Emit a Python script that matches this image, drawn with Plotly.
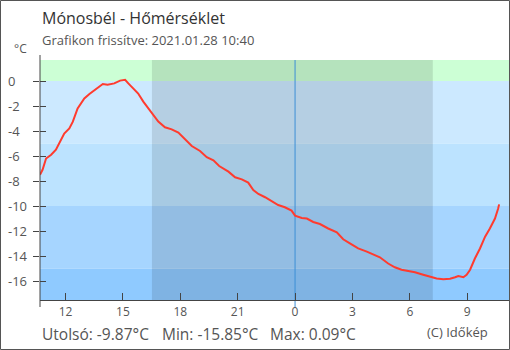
import plotly.graph_objects as go

# Temperature series (local time, °C)
times = [
    "2021-01-27 10:40", "2021-01-27 10:48", "2021-01-27 10:59", "2021-01-27 11:15",
    "2021-01-27 11:30", "2021-01-27 11:46", "2021-01-27 11:56", "2021-01-27 12:12",
    "2021-01-27 12:23", "2021-01-27 12:38", "2021-01-27 12:59", "2021-01-27 13:15",
    "2021-01-27 13:36", "2021-01-27 13:57", "2021-01-27 14:12", "2021-01-27 14:33",
    "2021-01-27 14:51", "2021-01-27 15:07", "2021-01-27 15:17", "2021-01-27 15:33",
    "2021-01-27 15:48", "2021-01-27 16:04", "2021-01-27 16:20", "2021-01-27 16:35",
    "2021-01-27 16:51", "2021-01-27 17:12", "2021-01-27 17:33", "2021-01-27 17:54",
    "2021-01-27 18:15", "2021-01-27 18:36", "2021-01-27 19:02", "2021-01-27 19:23",
    "2021-01-27 19:44", "2021-01-27 20:02", "2021-01-27 20:31", "2021-01-27 20:52",
    "2021-01-27 21:13", "2021-01-27 21:33", "2021-01-27 21:49", "2021-01-27 22:05",
    "2021-01-27 22:26", "2021-01-27 22:47", "2021-01-27 23:07", "2021-01-27 23:28",
    "2021-01-27 23:49", "2021-01-28 00:00", "2021-01-28 00:21", "2021-01-28 00:37",
    "2021-01-28 00:57", "2021-01-28 01:18", "2021-01-28 01:44", "2021-01-28 02:11",
    "2021-01-28 02:31", "2021-01-28 02:52", "2021-01-28 03:18", "2021-01-28 03:45",
    "2021-01-28 04:05", "2021-01-28 04:26", "2021-01-28 04:52", "2021-01-28 05:13",
    "2021-01-28 05:34", "2021-01-28 05:58", "2021-01-28 06:16", "2021-01-28 06:42",
    "2021-01-28 07:03", "2021-01-28 07:24", "2021-01-28 07:45", "2021-01-28 08:06",
    "2021-01-28 08:22", "2021-01-28 08:32", "2021-01-28 08:48", "2021-01-28 08:58",
    "2021-01-28 09:09", "2021-01-28 09:24", "2021-01-28 09:40", "2021-01-28 09:56",
    "2021-01-28 10:11", "2021-01-28 10:27", "2021-01-28 10:37", "2021-01-28 10:40",
]
temps = [
    -7.50, -7.10, -6.20, -5.90,
    -5.50, -4.70, -4.20, -3.80,
    -3.25, -2.20, -1.40, -1.04,
    -0.67, -0.24, -0.30, -0.19,
    0.03, 0.09, -0.19, -0.59,
    -1.00, -1.65, -2.20, -2.80,
    -3.25, -3.70, -3.87, -4.13,
    -4.67, -5.20, -5.60, -6.10,
    -6.35, -6.80, -7.25, -7.70,
    -7.87, -8.13, -8.72, -9.04,
    -9.30, -9.65, -9.92, -10.10,
    -10.37, -10.77, -10.96, -11.00,
    -11.28, -11.44, -11.80, -12.10,
    -12.66, -12.99, -13.39, -13.65,
    -13.84, -14.10, -14.60, -14.90,
    -15.10, -15.20, -15.30, -15.50,
    -15.65, -15.80, -15.85, -15.82,
    -15.70, -15.60, -15.70, -15.50,
    -15.10, -14.20, -13.40, -12.45,
    -11.80, -11.00, -10.20, -9.87,
]

x_tick_times = ["2021-01-27 12:00", "2021-01-27 15:00", "2021-01-27 18:00",
                "2021-01-27 21:00", "2021-01-28 00:00", "2021-01-28 03:00",
                "2021-01-28 06:00", "2021-01-28 09:00"]
x_tick_text = ["12", "15", "18", "21", "0", "3", "6", "9"]
y_ticks = [0, -2, -4, -6, -8, -10, -12, -14, -16]

sunset = "2021-01-27 16:31"
sunrise = "2021-01-28 07:12"
midnight = "2021-01-28 00:00"

last_temp = temps[-1]
min_temp = min(temps)
max_temp = max(temps)

X_RANGE = ["2021-01-27 10:40", "2021-01-28 11:11"]
Y_RANGE = [-17.52, 1.68]

# temperature bands: (lower, upper, colour)
bands = [
    (0, Y_RANGE[1], "#ccffd5"),
    (-5, 0, "#cce9ff"),
    (-10, -5, "#bce3ff"),
    (-15, -10, "#a6d5ff"),
    (Y_RANGE[0], -15, "#8fcaff"),
]

W, H = 510, 350
ML, MR, MT, MB = 40, 1, 60, 50
PW, PH = W - ML - MR, H - MT - MB


def px(xp):
    return (xp - ML) / PW


def py(yp):
    return (H - MB - yp) / PH


FONT = "Open Sans"
TXT = "#555555"

fig = go.Figure()
fig.add_trace(go.Scatter(x=times, y=temps, mode="lines",
                         line=dict(color="#ff3b2e", width=2),
                         hoverinfo="skip", showlegend=False))
# empty trace so the inner tick axis is drawn
fig.add_trace(go.Scatter(x=[None], y=[None], yaxis="y2", showlegend=False,
                         hoverinfo="skip"))

shapes = []
for lo, hi, col in bands:
    shapes.append(dict(type="rect", xref="paper", yref="y", x0=0, x1=1,
                       y0=lo, y1=hi, fillcolor=col, line=dict(width=0),
                       layer="below"))
shapes.append(dict(type="rect", xref="x", yref="paper", x0=sunset, x1=sunrise,
                   y0=0, y1=1, fillcolor="rgba(0,0,0,0.11)", line=dict(width=0),
                   layer="below"))
shapes.append(dict(type="line", xref="x", yref="paper", x0=midnight, x1=midnight,
                   y0=py(307), y1=1, line=dict(color="#3d8fd6", width=1),
                   layer="below"))
# y axis line
shapes.append(dict(type="line", xref="paper", yref="paper", x0=0, x1=0,
                   y0=py(307), y1=py(55), line=dict(color="#444444", width=1)))
# outer frame
shapes.append(dict(type="rect", xref="paper", yref="paper",
                   x0=px(0.5), x1=px(509.5), y0=py(349.5), y1=py(0.5),
                   line=dict(color="#555555", width=1)))

annotations = []
for v in y_ticks:
    annotations.append(dict(xref="paper", yref="y", x=px(6), y=v, text=str(v),
                            xanchor="left", yanchor="middle", showarrow=False,
                            font=dict(family=FONT, size=13, color=TXT)))
annotations += [
    dict(xref="paper", yref="paper", x=px(40), y=py(18),
         text="Mónosbél - Hőmérséklet", xanchor="left", yanchor="middle",
         showarrow=False, font=dict(family=FONT, size=16, color="#333333")),
    dict(xref="paper", yref="paper", x=px(40), y=py(40),
         text="Grafikon frissítve: 2021.01.28 10:40", xanchor="left",
         yanchor="middle", showarrow=False,
         font=dict(family=FONT, size=13, color=TXT)),
    dict(xref="paper", yref="paper", x=px(12), y=py(49), text="°C",
         xanchor="left", yanchor="middle", showarrow=False,
         font=dict(family=FONT, size=12, color=TXT)),
    dict(xref="paper", yref="paper", x=px(40), y=py(334),
         text=f"Utolsó: {last_temp:.2f}°C", xanchor="left", yanchor="middle",
         showarrow=False, font=dict(family=FONT, size=15.5, color=TXT)),
    dict(xref="paper", yref="paper", x=px(160), y=py(334),
         text=f"Min: {min_temp:.2f}°C", xanchor="left", yanchor="middle",
         showarrow=False, font=dict(family=FONT, size=15.5, color=TXT)),
    dict(xref="paper", yref="paper", x=px(268), y=py(334),
         text=f"Max: {max_temp:.2f}°C", xanchor="left", yanchor="middle",
         showarrow=False, font=dict(family=FONT, size=15.5, color=TXT)),
    dict(xref="paper", yref="paper", x=px(425), y=py(332),
         text="(C) Időkép", xanchor="left", yanchor="middle",
         showarrow=False, font=dict(family=FONT, size=13, color=TXT)),
]

fig.update_layout(
    width=W, height=H,
    margin=dict(l=ML, r=MR, t=MT, b=MB, pad=0),
    paper_bgcolor="white", plot_bgcolor="white",
    showlegend=False,
    shapes=shapes,
    annotations=annotations,
    xaxis=dict(type="date", range=X_RANGE, tickvals=x_tick_times,
               ticktext=x_tick_text, ticks="inside", ticklen=7,
               tickcolor="#444444", tickwidth=1, showgrid=False,
               zeroline=False, showline=True, linecolor="#444444",
               linewidth=1, ticklabelstandoff=1,
               tickfont=dict(family=FONT, size=12, color=TXT)),
    yaxis=dict(range=Y_RANGE, tickvals=y_ticks, ticks="outside", ticklen=6,
               tickcolor="#444444", tickwidth=1, showticklabels=False,
               showgrid=False, zeroline=False, showline=False),
    yaxis2=dict(range=Y_RANGE, tickvals=y_ticks, ticks="inside", ticklen=6,
                tickcolor="#444444", tickwidth=1, showticklabels=False,
                showgrid=False, zeroline=False, showline=False,
                overlaying="y", side="left", anchor="x"),
)

fig.write_html("out.html")
